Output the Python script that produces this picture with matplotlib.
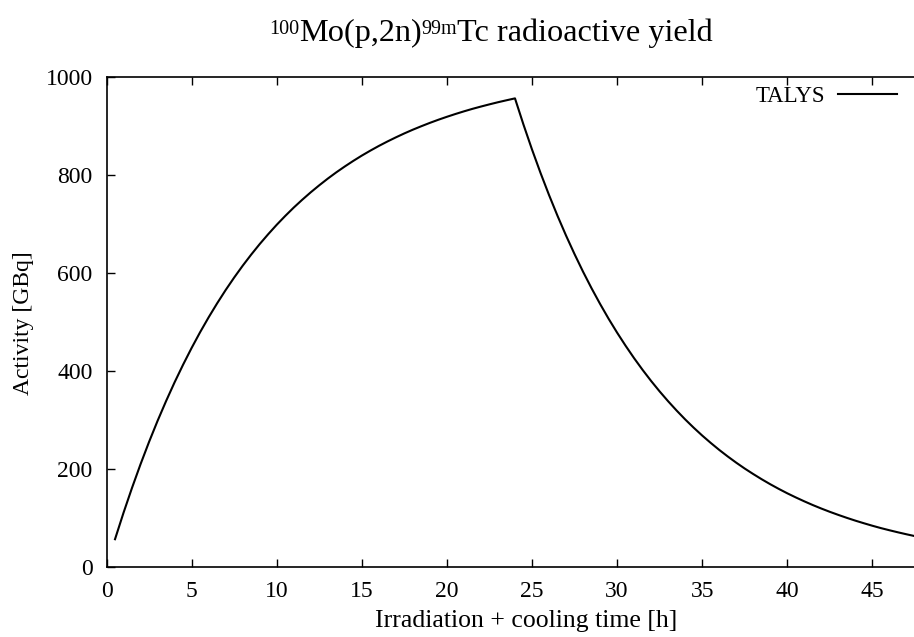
import matplotlib
matplotlib.use("Agg")
import matplotlib.pyplot as plt

plt.rcParams['font.family'] = ['Liberation Serif', 'DejaVu Serif']

# Irradiation + cooling time [h]
time_h = [0.5, 1, 1.5, 2, 2.5, 3, 3.5, 4, 4.5, 5, 5.5, 6, 6.5, 7, 7.5, 8, 8.5,
          9, 9.5, 10, 10.5, 11, 11.5, 12, 12.5, 13, 13.5, 14, 14.5, 15, 15.5,
          16, 16.5, 17, 17.5, 18, 18.5, 19, 19.5, 20, 20.5, 21, 21.5, 22,
          22.5, 23, 23.5, 24, 24.5, 25, 25.5, 26, 26.5, 27, 27.5, 28, 28.5,
          29, 29.5, 30, 30.5, 31, 31.5, 32, 32.5, 33, 33.5, 34, 34.5, 35,
          35.5, 36, 36.5, 37, 37.5, 38, 38.5, 39, 39.5, 40, 40.5, 41, 41.5,
          42, 42.5, 43, 43.5, 44, 44.5, 45, 45.5, 46, 46.5, 47, 47.5, 48]
# Activity [GBq]
activity_gbq = [57.3, 111.3, 162.2, 210.4, 255.9, 298.8, 339.2, 377.5, 413.5,
                447.6, 479.8, 510.1, 538.7, 565.8, 591.3, 615.4, 638.1, 659.6,
                679.8, 699.0, 717.0, 734.1, 750.1, 765.3, 779.6, 793.2, 806.0,
                818.0, 829.4, 840.2, 850.3, 859.9, 868.9, 877.4, 885.5, 893.1,
                900.2, 907.0, 913.4, 919.4, 925.1, 930.5, 935.6, 940.3, 944.8,
                949.1, 953.1, 957.0, 903.4, 852.7, 804.9, 759.8, 717.2, 677.0,
                639.1, 603.2, 569.4, 537.5, 507.3, 478.9, 452.1, 426.7, 402.8,
                380.2, 358.9, 338.8, 319.8, 301.8, 284.9, 268.9, 253.9, 239.6,
                226.2, 213.5, 201.5, 190.3, 179.6, 169.5, 160.0, 151.0, 142.6,
                134.6, 127.0, 119.9, 113.2, 106.9, 100.9, 95.2, 89.9, 84.8,
                80.0, 75.6, 71.4, 67.4, 63.6, 60.0]
series_label = "TALYS"
x_ticks = [0, 5, 10, 15, 20, 25, 30, 35, 40, 45]
y_ticks = [0, 200, 400, 600, 800, 1000]
# title pieces: (text, is_superscript)
title_parts = [("100", True), ("Mo(p,2n)", False), ("99m", True),
               ("Tc radioactive yield", False)]

W, H = 914, 637
fig = plt.figure(figsize=(W / 100, H / 100), dpi=100)
left, right, top, bottom = 106.5, 957.5, 77.3, 567.3
ax = fig.add_axes([left / W, 1 - bottom / H, (right - left) / W, (bottom - top) / H])

line, = ax.plot(time_h, activity_gbq, color='black', lw=1.5, label=series_label)

ax.set_xlim(0, 50)
ax.set_ylim(0, 1000)
ax.set_xticks(x_ticks)
ax.set_yticks(y_ticks)
ax.tick_params(direction='in', top=True, right=True, length=6, width=1,
               labelsize=17)
ax.tick_params(axis='x', pad=10)
ax.tick_params(axis='y', pad=10)
for s in ax.spines.values():
    s.set_linewidth(1.2)

fig.text(23 / W, 1 - 323 / H, "Activity [GBq]", fontsize=17, rotation=90,
         ha='center', va='center')
fig.text(526.5 / W, 1 - 621 / H, "Irradiation + cooling time [h]",
         fontsize=18.5, ha='center', va='center')

# Title built from pieces (gnuplot-style small, slightly raised superscripts)
main_fs, sup_fs = 23.2, 14.5
baseline_px = 41.5
raise_px = 7.0
renderer = fig.canvas.get_renderer()
texts = []
widths = []
for txt, sup in title_parts:
    t = fig.text(0, 0, txt, fontsize=sup_fs if sup else main_fs,
                 ha='left', va='baseline')
    bb = t.get_window_extent(renderer=renderer)
    texts.append((t, sup))
    widths.append(bb.width)
total = sum(widths)
x0 = 491 - total / 2
for (t, sup), w in zip(texts, widths):
    ypx = baseline_px - (raise_px if sup else 0)
    t.set_position((x0 / W, 1 - ypx / H))
    x0 += w

leg = ax.legend(loc='center right', bbox_to_anchor=(897 / W, 1 - 96.7 / H),
                bbox_transform=fig.transFigure, frameon=False, markerfirst=False,
                fontsize=16.5, borderpad=0, borderaxespad=0, handlelength=2.58,
                handletextpad=0.57)

fig.savefig("out.png", dpi=100)
